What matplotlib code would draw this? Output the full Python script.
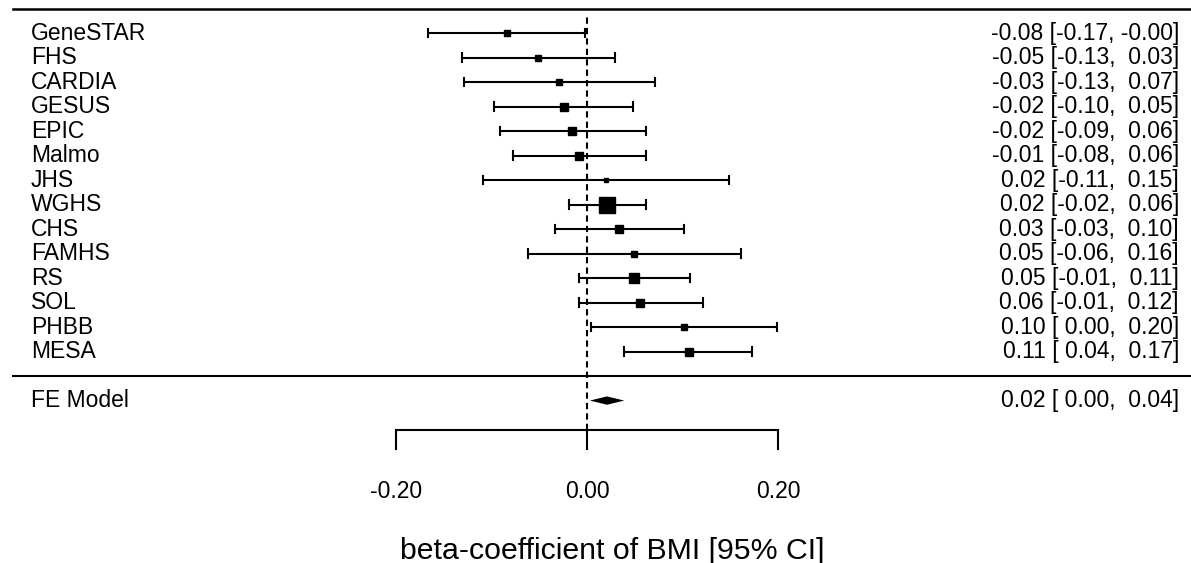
import matplotlib
matplotlib.use("Agg")
import matplotlib.pyplot as plt
import numpy as np

plt.rcParams["font.family"] = ["Liberation Sans", "DejaVu Sans"]

studies = ["GeneSTAR", "FHS", "CARDIA", "GESUS", "EPIC", "Malmo", "JHS",
           "WGHS", "CHS", "FAMHS", "RS", "SOL", "PHBB", "MESA"]
est = [-0.084, -0.051, -0.029, -0.024, -0.016, -0.008, 0.020,
       0.021, 0.034, 0.049, 0.049, 0.056, 0.102, 0.107]
ci_lo = [-0.166, -0.131, -0.129, -0.097, -0.091, -0.077, -0.109,
         -0.019, -0.034, -0.062, -0.008, -0.008, 0.004, 0.039]
ci_hi = [-0.002, 0.029, 0.071, 0.048, 0.062, 0.062, 0.149,
         0.062, 0.102, 0.161, 0.108, 0.121, 0.199, 0.173]
fe_est, fe_lo, fe_hi = 0.021, 0.003, 0.039
xticks = [-0.20, 0.00, 0.20]
xlabel = "beta-coefficient of BMI [95% CI]"

fig = plt.figure(figsize=(11.91, 5.63), dpi=100)
ax = fig.add_axes([0, 0, 1, 1])
ax.set_xlim(-0.6147, 0.6325)
ax.set_ylim(-7.63, 15.35)
ax.axis("off")

k = len(studies)
rows = np.arange(k, 0, -1)
x_lab, x_txt = -0.5825, 0.6199
fs = 16.5


def ci_text(e, lo, hi):
    return f"{e:.2f} [{lo:5.2f}, {hi:5.2f}]"


# inverse-variance weights -> square size
se = (np.array(ci_hi) - np.array(ci_lo)) / 3.92
w = 1 / se**2
side_px = 5.0 + (w - w.min()) / (w.max() - w.min()) * 10.5

lw = 1.5
cap = 0.17
for i, r in enumerate(rows):
    ax.plot([ci_lo[i], ci_hi[i]], [r, r], color="black", lw=lw, solid_capstyle="butt")
    for xe in (ci_lo[i], ci_hi[i]):
        ax.plot([xe, xe], [r - cap, r + cap], color="black", lw=lw)
    ax.plot(est[i], r, marker="s", color="black", markersize=side_px[i] * 0.72, zorder=3)
    ax.text(x_lab, r, studies[i], ha="left", va="center", fontsize=fs)
    ax.text(x_txt, r, ci_text(est[i], ci_lo[i], ci_hi[i]), ha="right", va="center", fontsize=fs)

# summary
fe_row = -1
ax.fill([fe_lo, fe_est, fe_hi, fe_est], [fe_row, fe_row + 0.17, fe_row, fe_row - 0.17],
        color="black", lw=0)
ax.text(x_lab, fe_row, "FE Model", ha="left", va="center", fontsize=fs)
ax.text(x_txt, fe_row, ci_text(fe_est, fe_lo, fe_hi), ha="right", va="center", fontsize=fs)

# horizontal rules
ax.plot([-0.601, 0.6325], [k + 1, k + 1], color="black", lw=1.8)
ax.plot([-0.601, 0.6325], [0, 0], color="black", lw=1.5)

# reference line
ax.plot([0, 0], [-2.2, k + 0.65], color="black", lw=1.5, ls=(0, (3, 2)))

# x axis
ax.plot([xticks[0], xticks[-1]], [-2.2, -2.2], color="black", lw=lw)
for t in xticks:
    ax.plot([t, t], [-2.2, -2.98], color="black", lw=lw)
    ax.text(t, -4.7, f"{t:.2f}", ha="center", va="center", fontsize=fs)
ax.text(0.026, -7.15, xlabel, ha="center", va="center", fontsize=21.8)

fig.savefig("out.png", dpi=100)
